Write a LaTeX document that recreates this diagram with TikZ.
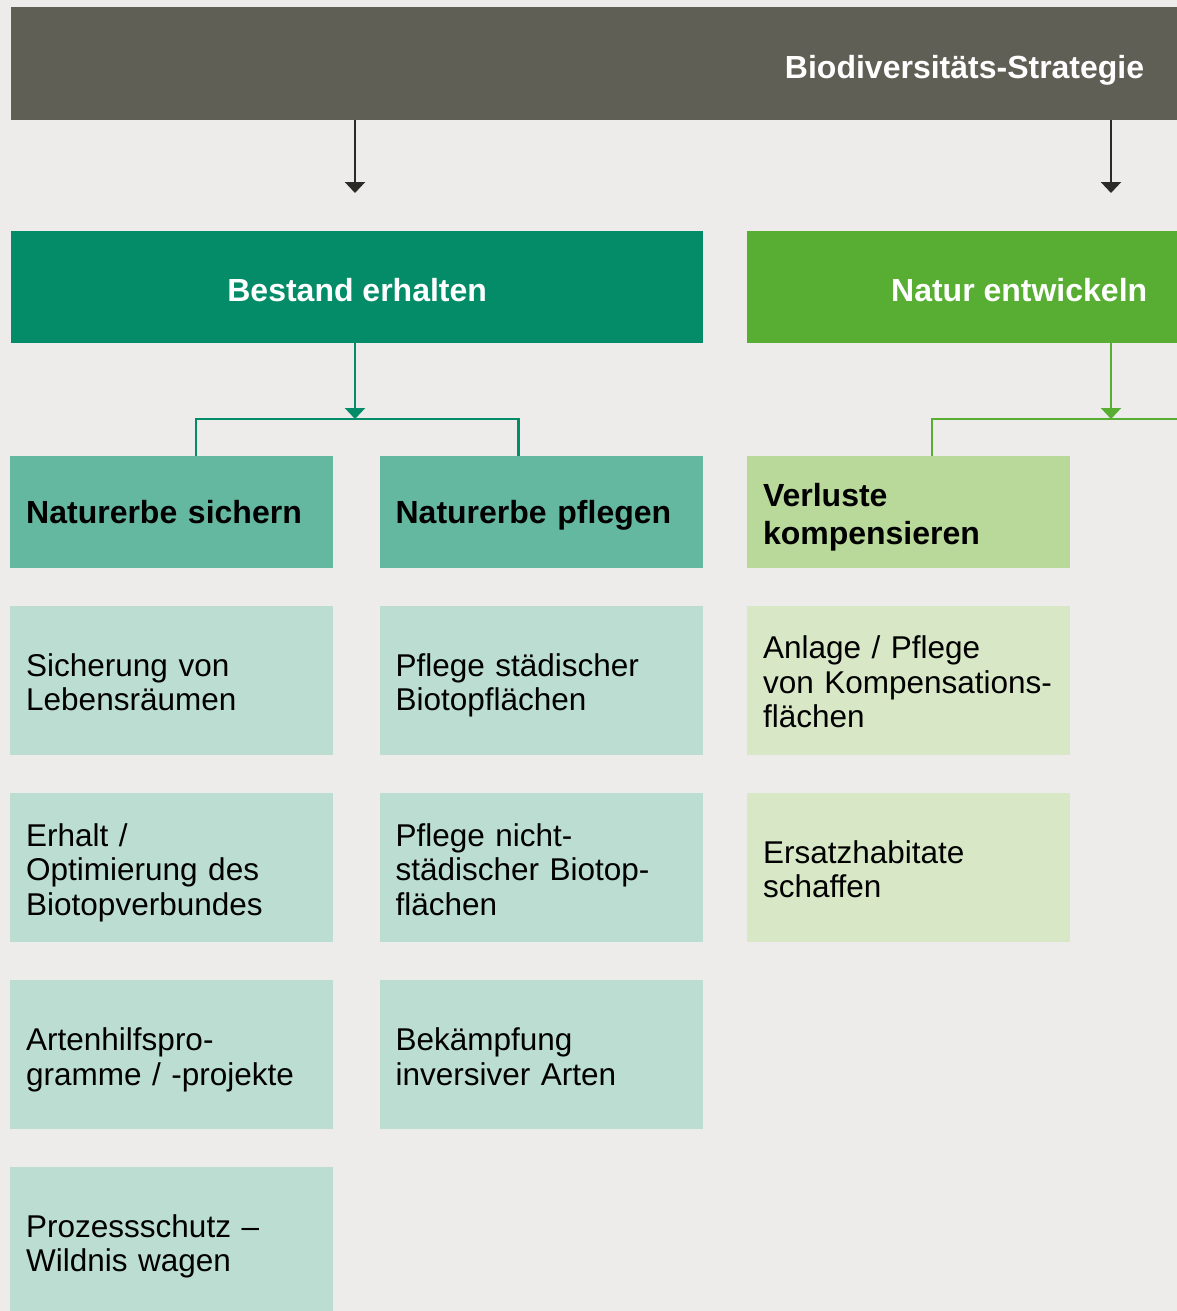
\documentclass[tikz,border=0pt]{standalone}
\usepackage{fontspec}
\setmainfont{Liberation Sans}
\usetikzlibrary{arrows.meta}
\usetikzlibrary{positioning}

\definecolor{hintergrund}{HTML}{EDECEA}
\definecolor{strategie}{HTML}{605F55}
\definecolor{dunkel}{HTML}{2B2A26}
\definecolor{bestand}{HTML}{038C67}
\definecolor{natur}{HTML}{58AE33}
\definecolor{bestandmittel}{HTML}{65B8A0}
\definecolor{bestandhell}{HTML}{BCDDD2}
\definecolor{naturmittel}{HTML}{B8D99A}
\definecolor{naturhell}{HTML}{D8E8C6}

\begin{document}
\begin{tikzpicture}[x=1pt,y=-1pt,
		feld/.style={anchor=north west,inner xsep=16pt,inner ysep=0pt,text width=291pt,minimum height=149pt,align=left,font=\fontsize{31.5}{34.5}\selectfont,
			execute at end node={\vphantom{g}\vspace{-10pt}}},
		kopf/.style={feld,minimum height=112pt,font=\fontsize{32}{38}\selectfont\bfseries},
		ziel/.style={anchor=north west,inner sep=0pt,minimum height=112pt,text height=29pt,text depth=0pt,text=white,font=\fontsize{32}{38}\selectfont\bfseries},
		pfeil/.style={line width=2.5pt,-{Triangle[width=20pt,length=11pt]}},
		linie/.style={line width=2.5pt}]
		\useasboundingbox (0,0) rectangle (1177,1311);
		\fill [hintergrund] (0,0) rectangle (1177,1311);
		\clip (0,0) rectangle (1177,1311);

		\node [ziel,fill=strategie,minimum height=113pt,text width=1166pt,align=right] (strategie) at (11,7) {Biodiversitäts-Strategie\hspace*{33pt}};

		\node [ziel,fill=bestand,minimum width=692pt] (bestand) at (11,231) {Bestand erhalten};
		\node [ziel,fill=natur,minimum width=544pt] (natur) at (747,231) {Natur entwickeln};

		\node [kopf,fill=bestandmittel] (sichern) at (10,456) {Naturerbe sichern};
		\node [kopf,fill=bestandmittel,right=46pt of sichern] (pflegen) {Naturerbe pflegen};
		\node [kopf,fill=naturmittel,right=44pt of pflegen] (verluste) {Verluste\\kompensieren};

		\node [feld,fill=bestandhell,below=37pt of sichern] (s1) {Sicherung von\\Lebensräumen};
		\node [feld,fill=bestandhell,below=38pt of s1] (s2) {Erhalt /\\Optimierung des\\Biotopverbundes};
		\node [feld,fill=bestandhell,below=38pt of s2] (s3) {Artenhilfspro-\\gramme / -projekte};
		\node [feld,fill=bestandhell,below=37pt of s3] (s4) {Prozessschutz –\\Wildnis wagen};

		\node [feld,fill=bestandhell,below=37pt of pflegen] (p1) {Pflege städischer\\Biotopflächen};
		\node [feld,fill=bestandhell,below=38pt of p1] (p2) {Pflege nicht-\\städischer Biotop-\\flächen};
		\node [feld,fill=bestandhell,below=38pt of p2] (p3) {Bekämpfung\\inversiver Arten};

		\node [feld,fill=naturhell,below=37pt of verluste] (v1) {Anlage / Pflege\\von Kompensations-\\flächen};
		\node [feld,fill=naturhell,below=38pt of v1] (v2) {Ersatzhabitate\\schaffen};

		% Pfeile von der Strategie
		\coordinate (e1) at (355,193);
		\coordinate (e2) at (1111,193);
		\draw [pfeil,dunkel] (strategie.south -| e1) -- (e1);
		\draw [pfeil,dunkel] (strategie.south -| e2) -- (e2);

		% Verzweigungen
		\coordinate (g1) at (355,419);
		\coordinate (g2) at (1111,419);
		\coordinate (rand) at (1190,419);
		\draw [pfeil,bestand] (bestand.south -| g1) -- (g1);
		\draw [linie,bestand] ([xshift=186pt]sichern.north west) |- (g1) -| ([xshift=139pt]pflegen.north west);
		\draw [pfeil,natur] (natur.south -| g2) -- (g2);
		\draw [linie,natur] ([xshift=185pt]verluste.north west) |- (rand);
	\end{tikzpicture}
\end{document}
